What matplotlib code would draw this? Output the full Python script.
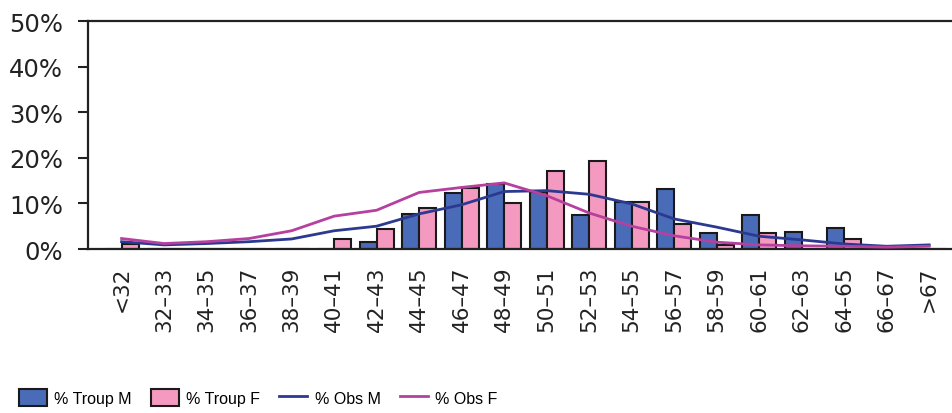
import numpy as np
import matplotlib
matplotlib.use('Agg')
import matplotlib.pyplot as plt

cats = ['<32', '32–33', '34–35', '36–37', '38–39', '40–41', '42–43', '44–45',
        '46–47', '48–49', '50–51', '52–53', '54–55', '56–57', '58–59', '60–61',
        '62–63', '64–65', '66–67', '>67']
troup_m = [0, 0, 0, 0, 0, 0, 1.6, 7.6, 12.3, 14.2, 12.4, 7.4, 10.4, 13.1, 3.6, 7.5, 3.8, 4.6, 0, 0]
troup_f = [1.2, 0, 0, 0, 0, 2.2, 4.4, 9.0, 13.3, 10.1, 17.2, 19.3, 10.2, 5.5, 0.9, 3.4, 0, 2.2, 0, 0]
obs_m = [1.6, 0.9, 1.2, 1.6, 2.2, 4.0, 5.0, 7.7, 9.7, 12.6, 12.8, 12.0, 9.9, 6.6, 4.8, 2.8, 2.0, 1.1, 0.6, 0.9]
obs_f = [2.3, 1.2, 1.6, 2.3, 4.0, 7.2, 8.5, 12.4, 13.5, 14.5, 11.7, 7.9, 5.0, 2.9, 1.5, 0.9, 0.7, 0.6, 0.4, 0.6]

x = np.arange(len(cats))
w = 0.4
edge = '#1a1a1a'

fig = plt.figure(figsize=(9.53, 4.14), dpi=100)
ax = fig.add_axes([88/953, 1-250/414, 1-88/953, (250-22)/414])

b1 = ax.bar(x, troup_m, width=-w, align='edge', color='#4a6cb8', edgecolor=edge,
            linewidth=1.5, label='% Troup M', zorder=2)
b2 = ax.bar(x, troup_f, width=w, align='edge', color='#f49ac1', edgecolor=edge,
            linewidth=1.5, label='% Troup F', zorder=2)
l1, = ax.plot(x, obs_m, color='#2b3990', lw=2, label='% Obs M', zorder=3)
l2, = ax.plot(x, obs_f, color='#b5409e', lw=2, label='% Obs F', zorder=3)

ax.set_xlim(-0.79, 19.56)
ax.set_ylim(0, 50)
ax.set_yticks(range(0, 51, 10))
ax.set_yticklabels([f'{v}%' for v in range(0, 51, 10)], fontsize=17.5, color='#222222')
ax.set_xticks(x)
ax.set_xticklabels(cats, rotation=90, fontsize=15.5, color='#222222')
ax.tick_params(axis='x', length=0, pad=12)
ax.tick_params(axis='y', length=7, width=1.5, color='#222222', pad=11)

for s in ['left', 'bottom', 'top']:
    ax.spines[s].set_linewidth(1.6)
    ax.spines[s].set_color('#222222')
ax.spines['right'].set_visible(False)

fig.legend(handles=[b1, b2, l1, l2], loc='center', bbox_to_anchor=(0.271, 0.038),
           ncol=4, frameon=False,
           prop={'family': 'Liberation Sans', 'size': 11.5},
           handlelength=1.75, handleheight=1.3, handletextpad=0.45, columnspacing=1.2)

fig.savefig('out.png', dpi=100)
